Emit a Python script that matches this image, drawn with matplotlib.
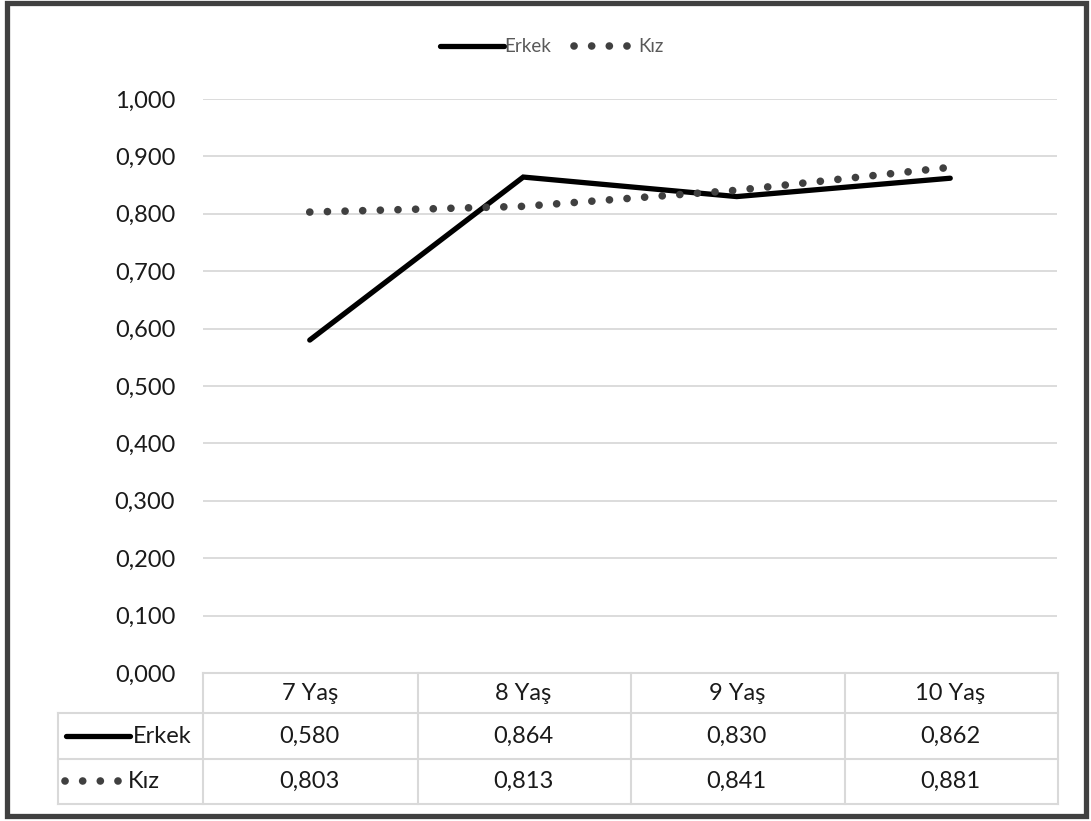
import matplotlib.pyplot as plt
from matplotlib.lines import Line2D
from matplotlib.patches import Rectangle
from matplotlib.ticker import FuncFormatter
import matplotlib.transforms as mtrans

plt.rcParams['font.family'] = ['Lato', 'DejaVu Sans']

categories = ["7 Yaş", "8 Yaş", "9 Yaş", "10 Yaş"]
erkek = [0.580, 0.864, 0.830, 0.862]
kiz = [0.803, 0.813, 0.841, 0.881]
yticks = [0.0, 0.1, 0.2, 0.3, 0.4, 0.5, 0.6, 0.7, 0.8, 0.9, 1.0]

W, H = 1091, 821
fig = plt.figure(figsize=(W / 100, H / 100), dpi=100)

def fx(px):
    return px / W

def fy(py):
    return 1 - py / H

FS = 17

# plot area: x 203..1057, y 99..673 px
ax = fig.add_axes([fx(203), fy(673), fx(1057) - fx(203), fy(99) - fy(673)])

x = list(range(len(categories)))
ax.plot(x, erkek, color="black", lw=3.8, solid_capstyle="round",
        solid_joinstyle="miter", label="Erkek", zorder=3)
kiz_style = dict(color="#404040", lw=5.5, linestyle=(0, (0.01, 2.3)),
                 dash_capstyle="round")
ax.plot(x, kiz, label="Kız", zorder=4, **kiz_style)

ax.set_xlim(-0.5, len(categories) - 0.5)
ax.set_ylim(0, 1.0)
ax.set_yticks(yticks)
ax.yaxis.set_major_formatter(FuncFormatter(lambda v, p: f"{v:.3f}".replace(".", ",")))
ax.tick_params(axis="y", length=0, pad=20, labelsize=FS, labelcolor="#1a1a1a")
ax.set_xticks([])
ax.grid(axis="y", color="#d9d9d9", lw=1.3)
ax.set_axisbelow(True)
for s in ax.spines.values():
    s.set_visible(False)

# legend at top
leg = fig.legend(handles=[Line2D([], [], color="black", lw=3.8, solid_capstyle="round"),
                          Line2D([], [], **kiz_style)],
                 labels=["Erkek", "Kız"], loc="center", bbox_to_anchor=(fx(552), fy(47)),
                 ncol=2, frameon=False, fontsize=13.5, handlelength=3.4,
                 handletextpad=0.05, columnspacing=1.2)
for t in leg.get_texts():
    t.set_color("#595959")

# data table below the plot
grid_c = "#d9d9d9"
tr = fig.transFigure
row_y = [673, 713, 759, 804]
col_x = [58, 203, 417.5, 631, 844.5, 1058]
fig.add_artist(Line2D([fx(203), fx(1058)], [fy(673)] * 2, color=grid_c, lw=1.5, transform=tr))
for yy in row_y[1:]:
    fig.add_artist(Line2D([fx(58), fx(1058)], [fy(yy)] * 2, color=grid_c, lw=1.5, transform=tr))
fig.add_artist(Line2D([fx(58)] * 2, [fy(713), fy(804)], color=grid_c, lw=1.5, transform=tr))
for xx in col_x[1:]:
    fig.add_artist(Line2D([fx(xx)] * 2, [fy(673), fy(804)], color=grid_c, lw=1.5, transform=tr))

blend = mtrans.blended_transform_factory(ax.transData, tr)
txt = dict(ha="center", va="center", fontsize=FS, color="#1a1a1a", transform=blend)
for i, cat in enumerate(categories):
    fig.text(i, fy(693), cat, **txt)
    fig.text(i, fy(736), f"{erkek[i]:.3f}".replace(".", ","), **txt)
    fig.text(i, fy(781), f"{kiz[i]:.3f}".replace(".", ","), **txt)

# series keys in the table
fig.add_artist(Line2D([fx(66), fx(130)], [fy(736)] * 2, color="black", lw=3.8,
                      solid_capstyle="round", transform=tr))
fig.add_artist(Line2D([fx(65), fx(123)], [fy(781)] * 2, transform=tr, **kiz_style))
fig.text(fx(133), fy(736), "Erkek", ha="left", va="center", fontsize=FS, color="#1a1a1a")
fig.text(fx(128), fy(781), "Kız", ha="left", va="center", fontsize=FS, color="#1a1a1a")

# outer chart border
fig.add_artist(Rectangle((fx(7), fy(816)), fx(1079), fy(3) - fy(816), transform=tr,
                         fill=False, edgecolor="#404040", lw=3.8))

fig.savefig("out.png", dpi=100)
